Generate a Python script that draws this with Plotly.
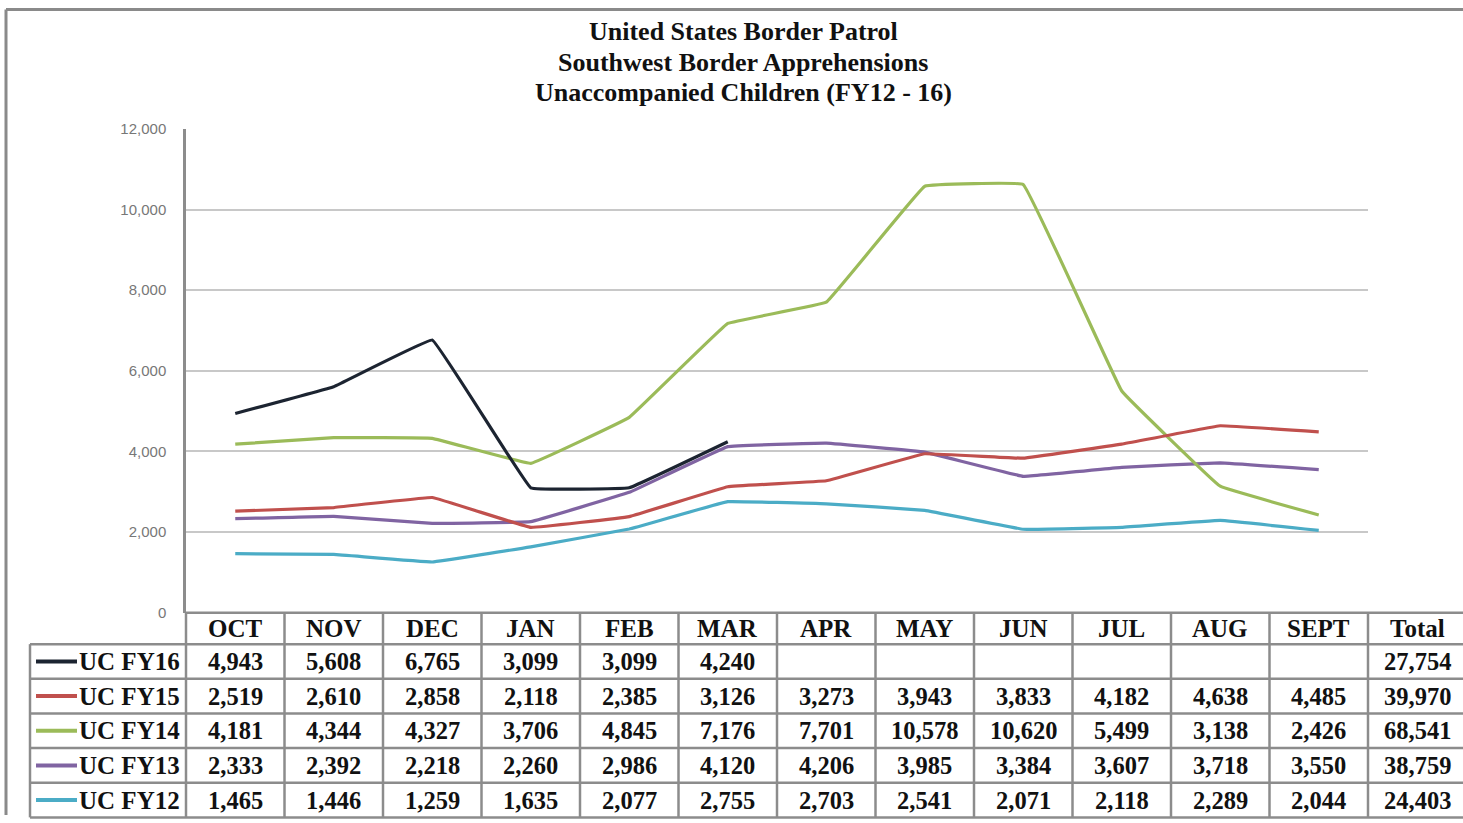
import plotly.graph_objects as go

W, H = 1463, 823

MONTHS = ["OCT", "NOV", "DEC", "JAN", "FEB", "MAR", "APR", "MAY", "JUN", "JUL", "AUG", "SEPT"]
SERIES_NAMES = ["UC FY16", "UC FY15", "UC FY14", "UC FY13", "UC FY12"]
FY16 = [4943, 5608, 6765, 3099, 3099, 4240, None, None, None, None, None, None]
FY15 = [2519, 2610, 2858, 2118, 2385, 3126, 3273, 3943, 3833, 4182, 4638, 4485]
FY14 = [4181, 4344, 4327, 3706, 4845, 7176, 7701, 10578, 10620, 5499, 3138, 2426]
FY13 = [2333, 2392, 2218, 2260, 2986, 4120, 4206, 3985, 3384, 3607, 3718, 3550]
FY12 = [1465, 1446, 1259, 1635, 2077, 2755, 2703, 2541, 2071, 2118, 2289, 2044]
TOTALS = [27754, 39970, 68541, 38759, 24403]
COLORS = ["#1c2431", "#c0504d", "#9bbb59", "#8064a2", "#4bacc6"]
TITLE_LINES = ["United States Border Patrol", "Southwest Border Apprehensions",
               "Unaccompanied Children (FY12 - 16)"]

SERIES = [FY16, FY15, FY14, FY13, FY12]

# layout geometry (target pixels in the picture)
PX0, PX1 = 186, 1368
PY_TOP, PY_BOT = 126.5, 612.5
HEADER_TOP, HEADER_BOT = 612.5, 644
ROW_H = 34.8
LABEL_LEFT = 30
TITLE_Y = [29, 60, 90]
SERIF = "Liberation Serif, Times New Roman, serif"

# vertical calibration of the rendered page
YS, YO = 0.9836, 6.1


def px(x):
    return x / W


def py(y):
    return 1 - ((y - YO) / YS) / H


fig = go.Figure()

# draw FY12 first, FY16 last (on top)
for name, vals, col in reversed(list(zip(SERIES_NAMES, SERIES, COLORS))):
    fig.add_trace(go.Scatter(
        x=MONTHS, y=vals, mode="lines", name=name,
        line=dict(color=col, width=3.2, shape="spline", smoothing=0.15),
        connectgaps=False, showlegend=False,
    ))

shapes = []
annotations = []

# outer frame
shapes.append(dict(type="line", xref="paper", yref="paper", x0=px(6), x1=1, y0=0.9995, y1=0.9995,
                   line=dict(color="#8a8a8a", width=3)))
shapes.append(dict(type="line", xref="paper", yref="paper", x0=px(6), x1=px(6), y0=0.9995, y1=0,
                   line=dict(color="#8a8a8a", width=3)))

col_w = (PX1 - PX0) / len(MONTHS)
tbl_color = "#8c8c8c"
tbl_w = 2.5
n_rows = len(SERIES_NAMES)
table_bot = HEADER_BOT + n_rows * ROW_H
total_x = px(PX1 + col_w / 2)

# horizontal table lines
shapes.append(dict(type="line", xref="paper", yref="paper", x0=px(PX0), x1=1,
                   y0=py(HEADER_TOP), y1=py(HEADER_TOP), line=dict(color=tbl_color, width=tbl_w)))
for r in range(n_rows + 1):
    yy = HEADER_BOT + r * ROW_H
    shapes.append(dict(type="line", xref="paper", yref="paper", x0=px(LABEL_LEFT), x1=1,
                       y0=py(yy), y1=py(yy), line=dict(color=tbl_color, width=tbl_w)))
# vertical table lines
shapes.append(dict(type="line", xref="paper", yref="paper", x0=px(LABEL_LEFT), x1=px(LABEL_LEFT),
                   y0=py(HEADER_BOT), y1=py(table_bot), line=dict(color=tbl_color, width=tbl_w)))
for k in range(len(MONTHS) + 1):
    xx = PX0 + k * col_w
    shapes.append(dict(type="line", xref="paper", yref="paper", x0=px(xx), x1=px(xx),
                       y0=py(HEADER_TOP), y1=py(table_bot), line=dict(color=tbl_color, width=tbl_w)))

hdr_font = dict(family=SERIF, size=25, color="#111111")
lbl_font = dict(family=SERIF, size=25, color="#111111")
num_font = dict(family=SERIF, size=24.5, color="#111111")

# header row
header_y = py((HEADER_TOP + HEADER_BOT) / 2)
for i, m in enumerate(MONTHS):
    annotations.append(dict(x=i, y=header_y, xref="x", yref="paper", text=f"<b>{m}</b>",
                            showarrow=False, font=hdr_font, xanchor="center", yanchor="middle"))
annotations.append(dict(x=total_x, y=header_y, xref="paper", yref="paper", text="<b>Total</b>",
                        showarrow=False, font=hdr_font, xanchor="center", yanchor="middle"))

# body rows
for r, (name, vals, col, tot) in enumerate(zip(SERIES_NAMES, SERIES, COLORS, TOTALS)):
    yc = HEADER_BOT + (r + 0.5) * ROW_H
    shapes.append(dict(type="line", xref="paper", yref="paper", x0=px(36), x1=px(77),
                       y0=py(yc), y1=py(yc), line=dict(color=col, width=4)))
    annotations.append(dict(x=px(77), y=py(yc), xref="paper", yref="paper", text=f"<b>{name}</b>",
                            showarrow=False, font=lbl_font, xanchor="left", yanchor="middle"))
    for i, v in enumerate(vals):
        if v is None:
            continue
        annotations.append(dict(x=i, y=py(yc), xref="x", yref="paper", text=f"<b>{v:,}</b>",
                                showarrow=False, font=num_font, xanchor="center", yanchor="middle"))
    annotations.append(dict(x=total_x, y=py(yc), xref="paper", yref="paper", text=f"<b>{tot:,}</b>",
                            showarrow=False, font=num_font, xanchor="center", yanchor="middle"))

# title (one annotation per line)
for t, ty in zip(TITLE_LINES, TITLE_Y):
    annotations.append(dict(x=px(743), y=py(ty), xref="paper", yref="paper", text=f"<b>{t}</b>",
                            showarrow=False, font=dict(family=SERIF, size=26, color="#111111"),
                            xanchor="center", yanchor="middle", align="center"))

fig.update_layout(
    width=W, height=H,
    margin=dict(l=0, r=0, t=0, b=0),
    paper_bgcolor="white", plot_bgcolor="white",
    showlegend=False,
    xaxis=dict(domain=[px(PX0), px(PX1)], range=[-0.5, len(MONTHS) - 0.5], type="category",
               categoryorder="array", categoryarray=MONTHS,
               showgrid=False, zeroline=False, showline=False, showticklabels=False, ticks=""),
    yaxis=dict(domain=[py(PY_BOT), py(PY_TOP)], range=[0, 12000], dtick=2000, tickformat=",",
               showgrid=True, gridcolor="#c8c8c8", gridwidth=2, zeroline=False,
               showline=True, linecolor="#8c8c8c", linewidth=2.5, ticks="",
               ticklabelstandoff=14,
               tickfont=dict(family="Liberation Sans, Arial, sans-serif", size=15, color="#777777")),
    shapes=shapes, annotations=annotations,
)

fig.write_html("out.html", config={"displayModeBar": False},
               post_script="document.body.style.margin='0';document.body.style.overflow='hidden';")
